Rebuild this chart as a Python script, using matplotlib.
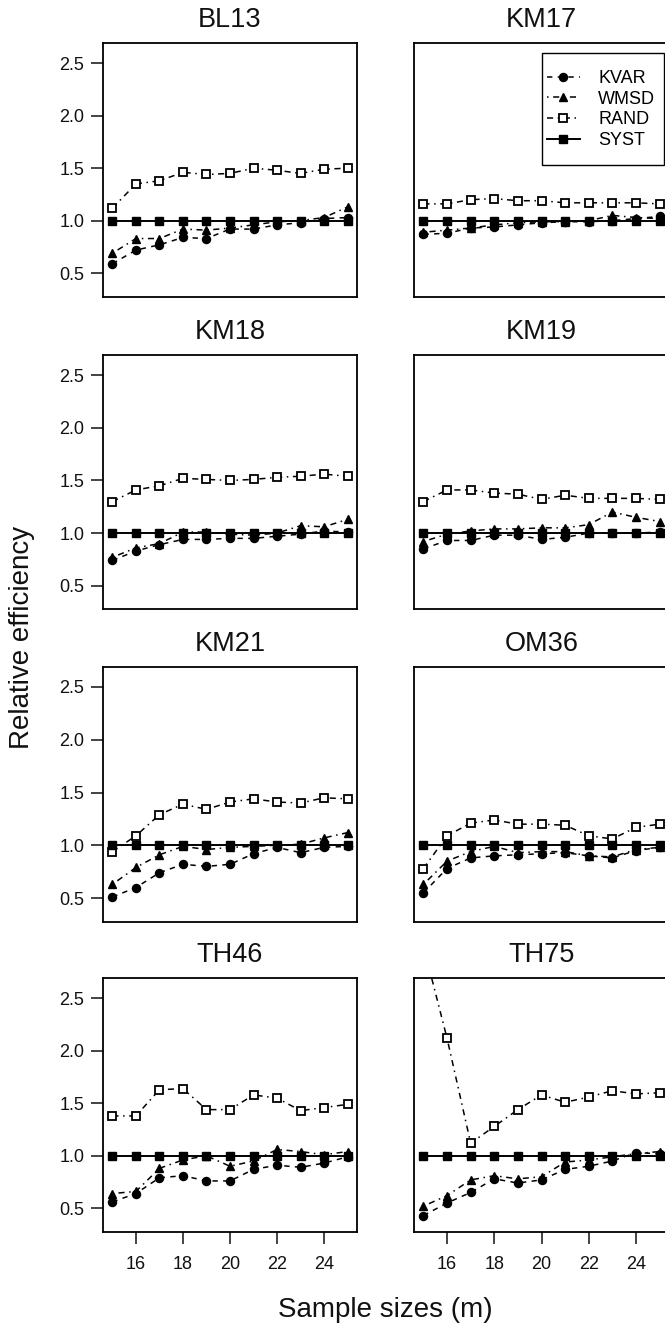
import numpy as np
import matplotlib
matplotlib.use("Agg")
import matplotlib.pyplot as plt
from matplotlib.patches import Rectangle

plt.rcParams['font.family'] = ['Liberation Sans', 'DejaVu Sans']

# sample sizes
m = [15, 16, 17, 18, 19, 20, 21, 22, 23, 24, 25]

sites = ["BL13", "KM17", "KM18", "KM19", "KM21", "OM36", "TH46", "TH75"]

kvar = {
    "BL13": [0.59, 0.72, 0.77, 0.84, 0.83, 0.92, 0.92, 0.96, 0.98, 1.02, 1.03],
    "KM17": [0.87, 0.88, 0.93, 0.94, 0.96, 0.98, 0.99, 0.99, 1.00, 1.02, 1.04],
    "KM18": [0.74, 0.83, 0.89, 0.94, 0.94, 0.95, 0.95, 0.97, 0.99, 1.02, 1.01],
    "KM19": [0.85, 0.93, 0.93, 0.98, 0.98, 0.94, 0.96, 1.00, 1.00, 1.00, 1.01],
    "KM21": [0.51, 0.60, 0.74, 0.82, 0.80, 0.82, 0.92, 0.98, 0.93, 0.98, 0.99],
    "OM36": [0.55, 0.78, 0.88, 0.90, 0.91, 0.92, 0.93, 0.90, 0.88, 0.95, 0.98],
    "TH46": [0.56, 0.64, 0.79, 0.81, 0.76, 0.76, 0.87, 0.91, 0.89, 0.93, 0.99],
    "TH75": [0.43, 0.55, 0.65, 0.78, 0.74, 0.77, 0.87, 0.90, 0.95, 1.03, 1.02],
}

wmsd = {
    "BL13": [0.69, 0.83, 0.83, 0.92, 0.91, 0.93, 0.96, 0.99, 1.00, 1.03, 1.13],
    "KM17": [0.89, 0.91, 0.93, 0.96, 0.98, 0.99, 0.99, 1.00, 1.05, 1.03, 1.02],
    "KM18": [0.77, 0.86, 0.90, 1.01, 1.01, 0.99, 0.98, 1.00, 1.07, 1.06, 1.13],
    "KM19": [0.92, 0.99, 1.02, 1.04, 1.04, 1.05, 1.05, 1.08, 1.20, 1.15, 1.11],
    "KM21": [0.63, 0.79, 0.91, 0.99, 0.96, 0.98, 0.99, 1.00, 1.01, 1.07, 1.12],
    "OM36": [0.63, 0.85, 0.94, 0.99, 0.93, 0.94, 0.94, 0.90, 0.89, 0.96, 0.98],
    "TH46": [0.64, 0.66, 0.88, 0.96, 1.00, 0.90, 0.95, 1.06, 1.04, 1.01, 1.04],
    "TH75": [0.52, 0.62, 0.77, 0.81, 0.78, 0.80, 0.94, 0.96, 0.99, 1.02, 1.04],
}

rand = {
    "BL13": [1.12, 1.35, 1.38, 1.46, 1.44, 1.45, 1.50, 1.48, 1.45, 1.49, 1.50],
    "KM17": [1.16, 1.16, 1.20, 1.21, 1.19, 1.19, 1.17, 1.17, 1.17, 1.17, 1.16],
    "KM18": [1.30, 1.41, 1.45, 1.52, 1.51, 1.50, 1.51, 1.53, 1.54, 1.56, 1.54],
    "KM19": [1.30, 1.41, 1.41, 1.38, 1.37, 1.32, 1.36, 1.33, 1.33, 1.33, 1.32],
    "KM21": [0.94, 1.09, 1.29, 1.39, 1.34, 1.41, 1.44, 1.41, 1.40, 1.45, 1.44],
    "OM36": [0.78, 1.09, 1.21, 1.24, 1.20, 1.20, 1.19, 1.09, 1.06, 1.17, 1.20],
    "TH46": [1.38, 1.38, 1.63, 1.64, 1.44, 1.44, 1.58, 1.55, 1.43, 1.46, 1.49],
    "TH75": [3.00, 2.12, 1.12, 1.28, 1.44, 1.58, 1.51, 1.56, 1.62, 1.59, 1.60],
}

syst = [1.0] * len(m)

x_ticks = [16, 18, 20, 22, 24]
y_ticks = [0.5, 1.0, 1.5, 2.0, 2.5]

W, H = 665, 1323
fig = plt.figure(figsize=(W / 100, H / 100), dpi=100)

# panel boxes in pixels (left, top, right, bottom)
cols = [(103, 357), (414, 669)]
rows = [(43, 296.7), (355, 609.3), (666.7, 921.7), (978.3, 1231.7)]

for i, site in enumerate(sites):
    r, c = divmod(i, 2)
    x0, x1 = cols[c]
    y0, y1 = rows[r]
    ax = fig.add_axes([x0 / W, 1 - y1 / H, (x1 - x0) / W, (y1 - y0) / H])

    ax.plot(m, kvar[site], color='black', lw=1.1, ls=(0, (3.5, 3.5)),
            marker='o', ms=5.8, mfc='black', mec='black', label='KVAR')
    ax.plot(m, wmsd[site], color='black', lw=1.1, ls=(0, (1, 3, 4, 3)),
            marker='^', ms=6.3, mfc='black', mec='black', label='WMSD')
    ax.plot(m, rand[site], color='black', lw=1.1, ls=(0, (4, 3, 1, 3)),
            marker='s', ms=5.5, mfc='white', mec='black', mew=1.3, label='RAND')
    ax.plot(m, syst, color='black', lw=1.4, ls='-',
            marker='s', ms=5.5, mfc='black', mec='black', label='SYST')

    ax.set_xlim(14.6, 25.4)
    ax.set_ylim(0.276, 2.692)
    ax.set_title(site, fontsize=19.5, pad=11.5, color='#111111')

    for s in ax.spines.values():
        s.set_linewidth(1.3)

    ax.set_xticks(x_ticks)
    ax.set_yticks(y_ticks)
    ax.set_yticklabels([f"{v:.1f}" for v in y_ticks])
    ax.tick_params(direction='out', length=8.5, width=1.1, labelsize=13,
                   colors='#111111')
    ax.tick_params(axis='y', pad=5)
    ax.tick_params(axis='x', pad=9)
    if c == 1:
        ax.tick_params(axis='y', left=False, labelleft=False)
    if r < 3:
        ax.tick_params(axis='x', bottom=False, labelbottom=False)

    if site == "KM17":
        # legend entries without frame, frame drawn as a plain box
        lx = (546.7 - x0) / (x1 - x0)
        ly = (y1 - 70) / (y1 - y0)
        ax.legend(loc='upper left', bbox_to_anchor=(lx, ly),
                  borderaxespad=0, borderpad=0, fontsize=13, frameon=False,
                  handlelength=1.85, handletextpad=1.0, labelspacing=0.2)
        bx0 = (541.7 - x0) / (x1 - x0)
        bx1 = (664 - x0) / (x1 - x0)
        by0 = (y1 - 165) / (y1 - y0)
        by1 = (y1 - 52.7) / (y1 - y0)
        ax.add_patch(Rectangle((bx0, by0), bx1 - bx0, by1 - by0,
                               transform=ax.transAxes, fill=False,
                               edgecolor='black', lw=1.0, zorder=5))

fig.text(22 / W, 1 - 637.5 / H, "Relative efficiency", rotation=90,
         ha='center', va='center', fontsize=20, color='#111111')
fig.text(385 / W, 1 - 1317 / H, "Sample sizes (m)", ha='center',
         va='baseline', fontsize=20, color='#111111')

fig.savefig("out.png", dpi=100)
